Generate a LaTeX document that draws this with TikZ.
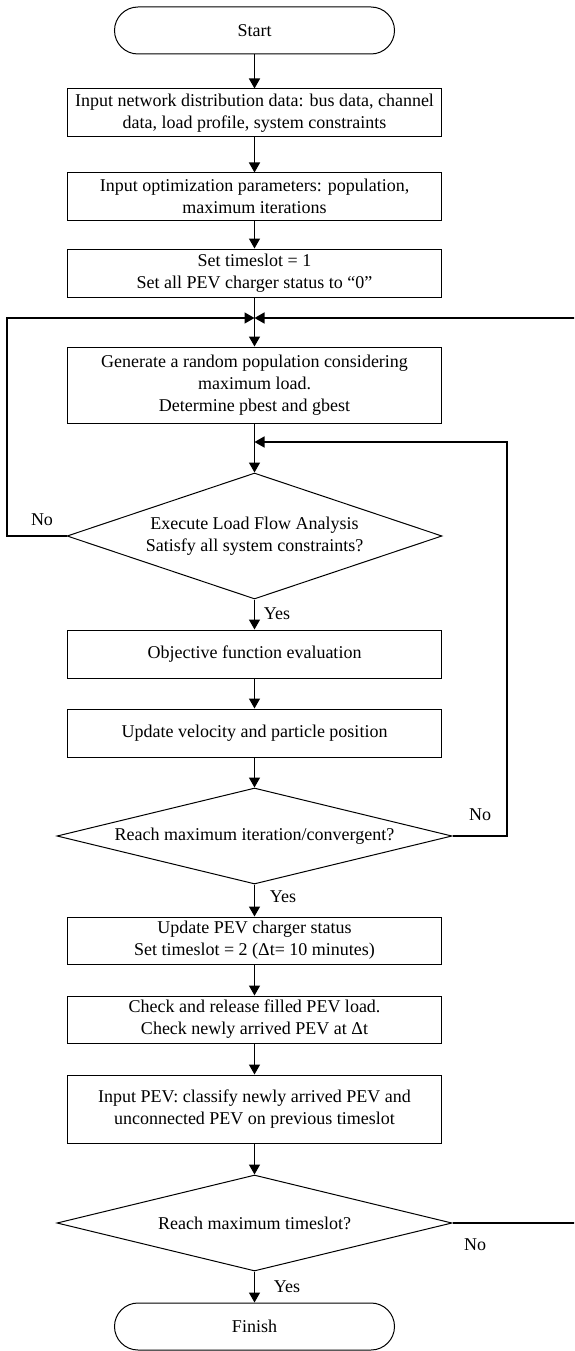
\documentclass[tikz,border=0pt]{standalone}
\usepackage{fontspec}
\setmainfont{Liberation Serif}
\usetikzlibrary{shapes.geometric,arrows.meta}
\begin{document}
\begin{tikzpicture}[x=1pt,y=-1pt,
  font=\fontsize{18}{22}\selectfont,
  box/.style={draw,line width=1pt,rectangle,minimum width=374pt,inner sep=0pt,align=center},
  term/.style={draw,line width=1pt,rectangle,rounded corners=23.5pt,minimum width=280pt,minimum height=47pt,inner sep=0pt},
  dec/.style={draw,line width=1pt,diamond,inner sep=0pt,align=center},
  conn/.style={line width=1.4pt,-{Triangle[length=10pt,width=11pt]}},
  lbl/.style={inner sep=0pt}]
\useasboundingbox (0,0) rectangle (574,1351);
\clip (0,0) rectangle (574,1351);
\node[term] (start) at (254.5,30.5) {Start};
\node[box,minimum height=48pt] (b1) at (254.5,113) {Input network distribution data: bus data, channel\\data, load profile, system constraints};
\node[box,minimum height=47pt] (b2) at (254.5,196.5) {Input optimization parameters: population,\\maximum iterations};
\node[box,minimum height=48pt] (b3) at (254.5,273) {Set timeslot = 1\\Set all PEV charger status to “0”};
\node[box,minimum height=76pt] (gen) at (254.5,385) {Generate a random population considering\\maximum load.\\Determine pbest and gbest};
\node[dec,aspect=3,minimum width=375pt,minimum height=126pt] (d1) at (254.5,536) {Execute Load Flow Analysis\\Satisfy all system constraints?};
\node[box,minimum height=48pt] (obj) at (254.5,654) {Objective function evaluation};
\node[box,minimum height=48pt] (vel) at (254.5,733) {Update velocity and particle position};
\node[dec,aspect=4.1,minimum width=395pt,minimum height=96pt] (d2) at (254.5,836) {Reach maximum iteration/convergent?};
\node[box,minimum height=47pt] (upd) at (254.5,940.5) {Update PEV charger status\\Set timeslot = 2 (Δt= 10 minutes)};
\node[box,minimum height=47pt] (chk) at (254.5,1019.5) {Check and release filled PEV load.\\Check newly arrived PEV at Δt};
\node[box,minimum height=68pt] (inp) at (254.5,1109) {Input PEV: classify newly arrived PEV and\\unconnected PEV on previous timeslot};
\node[dec,aspect=4.1,minimum width=395pt,minimum height=96pt] (d3) at (254.5,1223) {Reach maximum timeslot?};
\node[term] (fin) at (254.5,1326.5) {Finish};

\coordinate (J) at (254.5,318);
\coordinate (R) at (254.5,442);

\draw[conn] (start) -- (b1);
\draw[conn] (b1) -- (b2);
\draw[conn] (b2) -- (b3);
\draw[conn] (b3) -- (gen);
\draw[conn] (gen) -- (d1);
\draw[conn] (d1) -- (obj);
\draw[conn] (obj) -- (vel);
\draw[conn] (vel) -- (d2);
\draw[conn] (d2) -- (upd);
\draw[conn] (upd) -- (chk);
\draw[conn] (chk) -- (inp);
\draw[conn] (inp) -- (d3);
\draw[conn] (d3) -- (fin);

\draw[conn] (d1.west) -- (7,536) -- (7,318) -- (J);
\draw[conn] (d3.east) -- (595,1223) -- (595,318) -- (J);
\draw[conn] (d2.east) -- (507,836) -- (507,442) -- (R);

\node[lbl] (n1) at (42,520) {No};
\node[lbl] (y1) at (277,614) {Yes};
\node[lbl] (n2) at (480,815) {No};
\node[lbl] (y2) at (283,897) {Yes};
\node[lbl] (n3) at (475,1245) {No};
\node[lbl] (y3) at (287,1287) {Yes};
\end{tikzpicture}
\end{document}
